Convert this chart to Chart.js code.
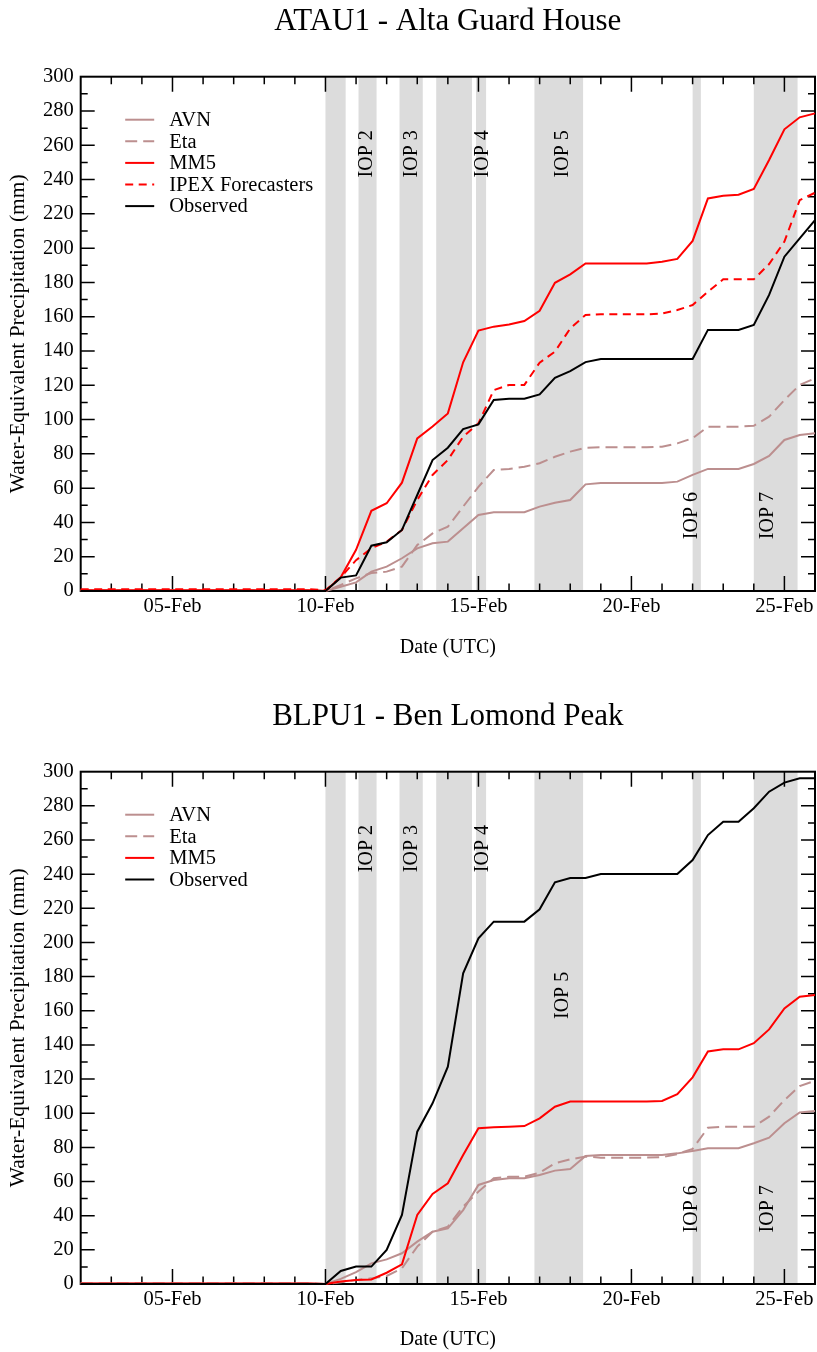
<!DOCTYPE html>
<html><head><meta charset="utf-8">
<script src="https://cdn.jsdelivr.net/npm/chart.js@4.4.1/dist/chart.umd.min.js"></script>
<style>
html,body{margin:0;padding:0;background:#fff;width:817px;height:1352px;overflow:hidden;position:relative;}
#c1{position:absolute;left:0;top:0;}
#c2{position:absolute;left:0;top:695px;}
</style></head><body>
<canvas id="c1" width="817" height="660"></canvas>
<canvas id="c2" width="817" height="657"></canvas>
<script>
// ---------- data ----------
const days = [2,3,4,5,6,7,8,9,9.5,10,10.5,11,11.5,12,12.5,13,13.5,14,14.5,15,15.5,16,16.5,17,17.5,18,18.5,19,19.5,20,20.5,21,21.5,22,22.5,23,23.5,24,24.5,25,25.5,26];

const xTickDays = [5,10,15,20,25];
const xTickLabels = ['05-Feb','10-Feb','15-Feb','20-Feb','25-Feb'];

const bandStart = [10.0, 11.08, 12.42, 13.62, 14.92, 16.83, 22.0, 24.0];
const bandEnd   = [10.66, 11.67, 13.18, 14.79, 15.25, 18.42, 22.27, 25.43];

const iopLabels = ['IOP 2','IOP 3','IOP 4','IOP 5','IOP 6','IOP 7'];
const iopDay    = [11.35, 12.82, 15.14, 17.75, 21.97, 24.46];

// ATAU1 - Alta Guard House
const ataAVN = [0.3,0.3,0.3,0.3,0.3,0.3,0.3,0.3,0.3,0,2.5,5,11.3,14.2,19.1,24.9,27.8,28.8,36.6,44.3,45.9,45.9,45.9,49.2,51.5,53.1,62.2,63,63,63,63,63,63.8,67.7,71.2,71.2,71.2,74.1,78.8,88.1,91,92];
const ataEta = [0.5,0.5,0.5,0.5,0.5,0.5,0.5,0.5,0.5,0,3.5,7.4,10.5,11.3,14.2,26.8,33.6,37.5,49.2,60.8,70.6,71.2,72.5,74.5,78.3,81.3,83.6,83.8,83.8,83.8,83.8,84.2,86.1,89.1,95.8,95.8,95.8,96.4,101.7,111.4,120.2,124];
const ataMM5 = [0.5,0.5,0.5,0.5,0.5,0.5,0.5,0.5,0.5,0,8,24,46.8,51.2,63.2,89,95.9,103.6,133.4,151.9,154.2,155.5,157.5,163.5,179.8,184.7,191.1,191.1,191.1,191.1,191.1,192.1,193.7,204.2,229,230.6,231.2,234.5,251.4,269.3,276.3,278.6];
const ataIPEX = [1,1,1,1,1,1,1,1,1,0.5,8,18,24.9,28.8,35.6,53.1,67.7,76.4,90,97.8,117.2,120.2,120.2,133.2,139.6,153.2,161,161.4,161.4,161.4,161.4,161.8,163.9,166.8,174.6,181.8,181.8,181.8,190.7,203.8,228,232.3];
const ataObs = [0,0,0,0,0,0,0,0,0,0,7.8,9.1,26.4,28.4,35.6,56,76.4,83.6,94.5,97.2,111.4,112.2,112.2,114.7,124.4,128.3,133.5,135.3,135.3,135.3,135.3,135.3,135.3,135.3,152.3,152.3,152.3,155.2,172.7,195,205.7,216.4];

// BLPU1 - Ben Lomond Peak
const blpAVN = [0.3,0.3,0.3,0.3,0.3,0.3,0.3,0.3,0.3,0,3,7,12.1,14.4,18,24.8,30.6,32.6,43.3,58,60.9,61.9,61.9,63.8,66.4,67.3,75,75.5,75.5,75.5,75.5,75.5,76.5,77.9,79.5,79.5,79.5,82.4,85.7,94.1,100.5,101.3];
const blpEta = [0.5,0.5,0.5,0.5,0.5,0.5,0.5,0.5,0.5,0,1,2.3,3.3,4.7,9.2,21.9,30.6,33.6,45.3,54.1,61.9,62.8,62.8,65.2,70.7,73,74.6,74,74,74,74,74.2,76.1,79.1,91.5,92.1,92.1,92.1,98,107.7,115.9,119];
const blpMM5 = [0.3,0.3,0.3,0.3,0.3,0.3,0.3,0.3,0.3,0,1.4,2.3,2.7,6.6,11.5,40.4,52.7,59,75.5,91.2,91.8,92.1,92.5,97,103.8,106.8,106.8,106.8,106.8,106.8,106.8,107.2,111.1,121,136.2,137.4,137.4,141,149.1,161.4,168.2,169.2];
const blpObs = [0,0,0,0,0,0,0,0,0,0,7.6,10.2,10.2,19.9,40.4,89.2,105.8,127.3,181.9,202.4,212.2,212.2,212.2,219.4,235.2,237.7,237.7,240.1,240.1,240.1,240.1,240.1,240.1,248.3,262.9,270.7,270.7,278.6,288.3,293.6,296.1,296.1];

// ---------- styling ----------
const SERIF = "'Liberation Serif', 'Times New Roman', serif";
const ROSY = '#bc8f8f';
const RED = '#ff0000';

const decor = {
  id: 'decor',
  beforeDatasetsDraw(chart, args, opts) {
    const { ctx, chartArea: a, scales: { x, y } } = chart;
    ctx.save();
    ctx.fillStyle = '#dcdcdc';
    bandStart.forEach((s, i) => {
      const x0 = x.getPixelForValue(s), x1 = x.getPixelForValue(bandEnd[i]);
      ctx.fillRect(x0, a.top, x1 - x0, a.bottom - a.top);
    });
    ctx.strokeStyle = '#000';
    ctx.lineWidth = 2;
    ctx.strokeRect(a.left, a.top, a.right - a.left, a.bottom - a.top);
    ctx.lineWidth = 1.5;
    ctx.beginPath();
    for (let d = Math.ceil(x.min) + 1; d < x.max; d++) {
      const p = x.getPixelForValue(d);
      const len = (d % 5 === 0) ? 15 : 7.5;
      ctx.moveTo(p, a.bottom); ctx.lineTo(p, a.bottom - len);
      ctx.moveTo(p, a.top); ctx.lineTo(p, a.top + len);
    }
    for (let v = y.min + 10; v < y.max; v += 10) {
      const p = y.getPixelForValue(v);
      const len = (v % 20 === 0) ? 14 : 7;
      ctx.moveTo(a.left, p); ctx.lineTo(a.left + len, p);
      ctx.moveTo(a.right, p); ctx.lineTo(a.right - len, p);
    }
    ctx.stroke();
    ctx.restore();
  },
  afterDatasetsDraw(chart, args, opts) {
    const { ctx, chartArea: a, scales: { x, y } } = chart;
    ctx.save();
    ctx.fillStyle = '#000';
    ctx.font = '20px ' + SERIF;
    ctx.textAlign = 'center';
    ctx.textBaseline = 'middle';
    iopLabels.forEach((t, i) => {
      ctx.save();
      ctx.translate(x.getPixelForValue(iopDay[i]), y.getPixelForValue(opts.iopY[i]));
      ctx.rotate(-Math.PI / 2);
      ctx.fillText(t, 0, 0);
      ctx.restore();
    });
    const ds = chart.data.datasets;
    const lx0 = a.left + 44.5, lx1 = a.left + 73.5, tx = a.left + 88.5;
    ctx.font = '20.5px ' + SERIF;
    ds.forEach((d, i) => {
      const yy = a.top + 43 + i * 21.6;
      ctx.beginPath();
      ctx.strokeStyle = d.borderColor;
      ctx.lineWidth = 2;
      ctx.setLineDash(d.borderDash || []);
      ctx.moveTo(lx0, yy); ctx.lineTo(lx1, yy);
      ctx.stroke();
      ctx.setLineDash([]);
      ctx.textAlign = 'left';
      ctx.fillText(d.label, tx, yy + 1);
    });
    ctx.restore();
  }
};

function makeChart(id, title, series, iopY, canvasH, plotBottom) {
  return new Chart(document.getElementById(id), {
    type: 'line',
    data: {
      datasets: series.map(s => ({
        label: s.label,
        data: days.map((d, i) => ({ x: d, y: s.values[i] })),
        borderColor: s.color,
        borderWidth: 2,
        borderDash: s.dash,
        pointRadius: 0, pointHoverRadius: 0,
        tension: 0, fill: false, clip: false,
        order: s.order
      }))
    },
    options: {
      responsive: false, animation: false, devicePixelRatio: 1,
      layout: { padding: { left: 0, right: 2, top: 0, bottom: 0 } },
      plugins: {
        legend: { display: false },
        tooltip: { enabled: false },
        title: {
          display: true, text: title, fullSize: false, color: '#000',
          font: { family: SERIF, size: 31, weight: 'normal' },
          padding: { top: 3.4, bottom: 36.1 }
        },
        decor: { iopY }
      },
      scales: {
        x: {
          type: 'linear', min: 2, max: 26,
          grid: { display: false, drawTicks: false }, border: { display: false },
          afterBuildTicks: sc => { sc.ticks = xTickDays.map(v => ({ value: v })); },
          ticks: {
            padding: 3, color: '#000', font: { family: SERIF, size: 20.5 },
            maxRotation: 0, autoSkip: false,
            callback: v => xTickLabels[xTickDays.indexOf(v)]
          },
          title: { display: true, text: 'Date (UTC)', color: '#000', font: { family: SERIF, size: 20 }, padding: { top: 0, bottom: 0 } },
          afterFit: sc => { sc.height = canvasH - plotBottom; sc.paddingLeft = 0; sc.paddingRight = 0; }
        },
        y: {
          min: 0, max: 300,
          grid: { display: false, drawTicks: false }, border: { display: false },
          ticks: { stepSize: 20, padding: 7, color: '#000', font: { family: SERIF, size: 20.5 } },
          title: { display: true, text: 'Water-Equivalent Precipitation (mm)', color: '#000', font: { family: SERIF, size: 21.5 }, padding: { top: 5, bottom: 0 } },
          afterFit: sc => { sc.width = 80.7; sc.paddingTop = 0; sc.paddingBottom = 0; }
        }
      }
    },
    plugins: [decor]
  });
}

makeChart('c1', 'ATAU1 - Alta Guard House', [
  { label: 'AVN', values: ataAVN, color: ROSY, dash: [], order: 5 },
  { label: 'Eta', values: ataEta, color: ROSY, dash: [12, 6], order: 4 },
  { label: 'MM5', values: ataMM5, color: RED, dash: [], order: 3 },
  { label: 'IPEX Forecasters', values: ataIPEX, color: RED, dash: [8, 5.5], order: 2 },
  { label: 'Observed', values: ataObs, color: '#000', dash: [], order: 1 }
], [255, 255, 255, 255, 44, 44], 660, 591);

makeChart('c2', 'BLPU1 - Ben Lomond Peak', [
  { label: 'AVN', values: blpAVN, color: ROSY, dash: [], order: 4 },
  { label: 'Eta', values: blpEta, color: ROSY, dash: [12, 6], order: 3 },
  { label: 'MM5', values: blpMM5, color: RED, dash: [], order: 2 },
  { label: 'Observed', values: blpObs, color: '#000', dash: [], order: 1 }
], [255, 255, 255, 169, 44, 44], 657, 589);
</script>
</body></html>
